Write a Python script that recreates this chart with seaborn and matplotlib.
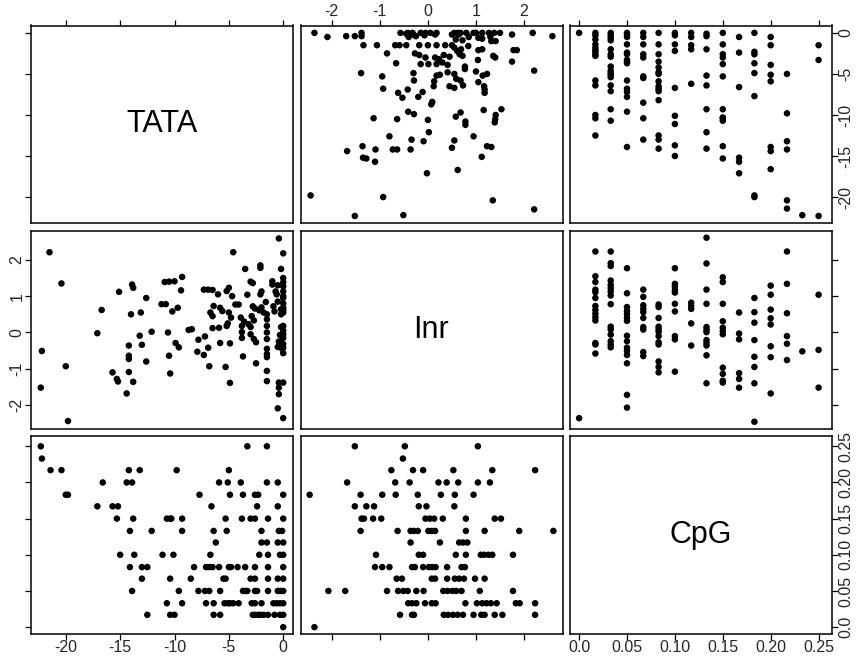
import matplotlib
matplotlib.use("Agg")
import matplotlib.pyplot as plt
import seaborn as sns
import pandas as pd

sns.set_theme(style="white")
plt.rcParams["font.family"] = ["Liberation Sans", "DejaVu Sans"]

var_names = ["TATA", "Inr", "CpG"]

# ---- TATA vs Inr (pairs) ----
tata_inr_tata = [
    -21.5, -20.4, -22.2, -22.3, -20.0, -19.8, -17.1, -16.7, -15.1, -15.7, -15.3, -15.2,
    -14.4, -14.2, -14.2, -14.2, -14.2, -14.0, -13.9, -13.8, -13.8, -13.2, -13.1, -13.0,
    -12.6, -12.6, -12.1, -11.2, -10.8, -10.9, -10.5, -10.0, -10.6, -10.5, -10.4, -10.2,
    -9.9, -9.6, -9.7, -9.4, -9.3, -8.7, -8.4, -7.9, -7.8, -7.3, -7.2, -7.3, -6.9, -6.5,
    -6.9, -6.8, -6.7, -6.5, -6.4, -6.5, -5.9, -6.0, -5.8, -5.6, -5.8, -5.3, -5.2, -5.0,
    -5.2, -5.1, -5.0, -4.8, -4.9, -4.9, -4.7, -4.6, -4.4, -4.1,
    -3.5, -2.1, -2.1, -0.4, 0.0, -0.2, -3.0, -2.8, -1.0, -1.0, 0.0, 0.0, 0.0, 0.0,
    -2.0, -2.1, -0.7, -0.6, -3.3, -1.6, 0.0, 0.0, 0.0, -2.8, -2.6, -2.0, -2.2, -1.8,
    -0.9, -0.8, -0.2, -0.2, 0.0, -3.9, -3.6, -3.2, -2.9, -2.7, -1.5, -1.5, 0.0, -3.8,
    -3.0, -3.8, -3.8, -3.0, -2.7, -2.5, -1.5, -1.5, -1.5, -1.5, -1.5, -0.2, -0.3, 0.0,
    -0.4, -0.2, 0.0, 0.0, -3.7, -2.5, -1.5, -1.5, -0.4, 0.0, -0.4, -0.4, -0.5, 0.0,
    -1.5, -0.5, -0.5, -0.5, -0.1, 0.0, 0.0, 0.0, 0.0, 0.0,
]
tata_inr_inr = [
    2.21, 1.35, -0.51, -1.52, -0.93, -2.44, -0.02, 0.62, 1.12, -1.10, -1.28, -1.35,
    -1.68, -0.36, -0.64, -0.73, -1.09, 0.50, 1.32, 1.23, -1.36, -0.09, 0.55, -0.34,
    0.95, -0.80, 0.02, 0.78, 0.78, 1.39, 1.40, 1.41, 0.00, -0.64, -1.13, 0.58,
    -0.29, -0.41, 0.68, 1.16, 1.53, 0.07, 0.09, -0.53, -0.20, -0.62, -0.11, 1.18, 1.18, 1.17,
    -0.42, -0.93, 0.55, 0.45, 0.73, 0.12, 0.13, 1.05, 0.68, 0.59, -0.29, -0.95, 1.14, 1.23,
    0.18, 0.25, 0.55, 0.41, -0.30, -1.39, 1.00, 2.21, 0.77, 0.77,
    1.75, 1.85, 1.78, 2.59, 2.18, 1.75, 1.40, 1.36, 1.41, 1.32, 1.50, 1.38, 1.27, 1.13,
    1.13, 1.05, 1.13, 1.05, 1.04, 0.84, 0.95, 0.80, 0.68, 0.72, 0.66, 0.69, 0.61, 0.55,
    0.72, 0.58, 0.64, 0.50, 0.55, 0.41, 0.30, 0.23, 0.45, 0.33, 0.36, 0.18, 0.18, 0.18,
    0.15, 0.01, -0.15, -0.05, -0.18, -0.27, 0.00, -0.18, -0.45, -0.59, -0.68, 0.15, -0.07, -0.15,
    -0.25, -0.30, -0.32, -0.57, -0.66, -0.85, -1.06, -1.34, -1.38, -1.38, -1.52, -1.70, -2.09, -2.36,
    0.50, 1.30, 0.85, -0.40, -0.45, 1.00, -0.05, -0.42, 0.62, 0.05,
]

# ---- CpG levels and the TATA / Inr values seen at each level ----
cpg_levels = [0.25, 0.233, 0.217, 0.2, 0.183, 0.167, 0.15, 0.133,
              0.117, 0.1, 0.083, 0.067, 0.05, 0.033, 0.017, 0.0]

tata_at_cpg = [
    [-22.3, -3.3, -1.5],
    [-22.2],
    [-21.4, -20.4, -14.2, -13.2, -9.8, -5.0],
    [-16.6, -14.4, -13.9, -5.9, -5.1, -3.9, -1.5, -0.5],
    [-20.0, -19.8, -7.7, -4.9, -3.7, -2.6, -2.3, 0.0],
    [-17.1, -15.7, -15.2, -6.6, -2.4, -0.5],
    [-15.3, -13.8, -10.7, -10.4, -10.3, -9.3, -5.3, -3.8, -3.0, -2.6, -1.4, 0.0],
    [-14.1, -12.1, -9.3, -6.4, -5.2, -2.0, -0.4, -0.1],
    [-6.2, -2.0, -1.5, -0.5, 0.0],
    [-15.0, -13.7, -11.1, -10.1, -6.7, -2.2, -1.4, -0.3, 0.0],
    [-14.1, -13.0, -12.5, -8.2, -7.1, -6.8, -6.5, -5.9, -5.0, -4.8, -4.2, -3.5, -2.6, -1.4, 0.0],
    [-13.0, -10.4, -8.5, -5.5, -5.3, -3.0, -2.6, -1.4, -0.5, 0.0],
    [-13.9, -9.6, -7.8, -7.2, -6.8, -5.8, -3.7, -3.5, -3.3, -2.6, -2.4, -1.4, -0.5, -0.2, 0.0],
    [-10.7, -9.3, -7.1, -6.4, -5.4, -5.1, -4.9, -4.6, -4.1, -2.9, -2.6, -2.0, -0.9, -0.6, -0.3, 0.0],
    [-12.5, -10.4, -10.0, -6.4, -5.8, -2.8, -2.6, -2.3, -2.1, -1.8, -1.4, -0.8, -0.3, 0.0],
    [0.0],
]

inr_at_cpg = [
    [-1.52, -0.48, 1.04],
    [-0.52],
    [-0.76, -0.31, -0.10, 0.53, 1.34, 2.23],
    [-1.68, -0.68, -0.38, 0.22, 0.39, 0.63, 1.04, 1.29],
    [-2.46, -1.40, -0.95, -0.67, -0.21, 0.27, 0.56, 0.95],
    [-1.52, -1.28, -1.12, -0.19, -0.03, 0.55],
    [-1.38, -1.33, -1.14, -0.97, -0.05, 0.04, 0.13, 0.31, 0.79, 1.39, 1.52],
    [-1.40, -0.63, -0.36, -0.29, -0.21, 0.01, 0.08, 0.15, 0.79, 1.18, 1.90, 2.61],
    [-0.36, 0.25, 0.65, 0.73, 0.82],
    [-1.08, -0.19, -0.10, 0.58, 0.79, 1.10, 1.17, 1.26, 1.34, 1.77],
    [-1.10, -0.95, -0.80, -0.33, -0.27, -0.10, 0.02, 0.09, 0.16, 0.40, 0.70, 0.77],
    [-0.65, -0.54, 0.08, 0.15, 0.40, 0.56, 0.65, 0.75, 0.98, 1.18],
    [-2.07, -1.72, -0.85, -0.62, -0.51, -0.42, -0.24, -0.09, 0.32, 0.41, 0.51, 0.59, 0.70, 1.08, 1.77],
    [-0.41, -0.33, -0.24, -0.06, 0.08, 0.16, 0.78, 1.02, 1.13, 1.22, 1.31, 1.43, 1.83, 1.91, 2.23],
    [-0.58, -0.33, -0.29, 0.33, 0.42, 0.52, 0.62, 0.73, 0.95, 1.11, 1.18, 1.39, 1.55, 2.23],
    [-2.36],
]

# ---- axis settings ----
tick_values = {
    "TATA": [-20, -15, -10, -5, 0],
    "Inr": [-2, -1, 0, 1, 2],
    "CpG": [0.0, 0.05, 0.10, 0.15, 0.20, 0.25],
}
tick_labels = {
    "TATA": ["-20", "-15", "-10", "-5", "0"],
    "Inr": ["-2", "-1", "0", "1", "2"],
    "CpG": ["0.0", "0.05", "0.10", "0.15", "0.20", "0.25"],
}
limits = {
    "TATA": (-23.2, 0.9),
    "Inr": (-2.65, 2.8),
    "CpG": (-0.0095, 0.264),
}

# ---- build tidy tables ----
df_ti = pd.DataFrame({"TATA": tata_inr_tata, "Inr": tata_inr_inr})
rows_tc, rows_ic = [], []
for lev, tv, iv in zip(cpg_levels, tata_at_cpg, inr_at_cpg):
    rows_tc += [(t, lev) for t in tv]
    rows_ic += [(v, lev) for v in iv]
df_tc = pd.DataFrame(rows_tc, columns=["TATA", "CpG"])
df_ic = pd.DataFrame(rows_ic, columns=["Inr", "CpG"])

pair_tables = {
    frozenset(["TATA", "Inr"]): df_ti,
    frozenset(["TATA", "CpG"]): df_tc,
    frozenset(["Inr", "CpG"]): df_ic,
}

W, H = 858.0, 659.0
fig, axes = plt.subplots(3, 3, figsize=(8.58, 6.59), dpi=100)
fig.subplots_adjust(left=31 / W, right=832 / W, bottom=1 - 634 / H, top=1 - 25.5 / H,
                    wspace=7.5 / 262, hspace=7.5 / 198)
fig.patch.set_facecolor("white")

FS = 11.5
for i, yv in enumerate(var_names):
    for j, xv in enumerate(var_names):
        ax = axes[i][j]
        ax.set_facecolor("white")
        if i == j:
            ax.text(0.5, 0.5, yv, transform=ax.transAxes, ha="center",
                    va="center", fontsize=22, color="black")
        else:
            d = pair_tables[frozenset([xv, yv])]
            sns.scatterplot(data=d, x=xv, y=yv, ax=ax, color="black", s=22,
                            edgecolor="none", linewidth=0, legend=False)
        ax.set_xlim(*limits[xv])
        ax.set_ylim(*limits[yv])
        ax.set_xticks(tick_values[xv])
        ax.set_xticklabels(tick_labels[xv])
        ax.set_yticks(tick_values[yv])
        ax.set_yticklabels(tick_labels[yv])
        ax.set_xlabel("")
        ax.set_ylabel("")
        for sp in ax.spines.values():
            sp.set_visible(True)
            sp.set_color("black")
            sp.set_linewidth(1.1)

        top = i == 0
        bottom = i == 2
        ax.tick_params(axis="x", which="both", direction="out", length=4,
                       width=0.9, color="black", labelsize=FS, pad=0.5,
                       top=top, bottom=bottom,
                       labeltop=top and (j % 2 == 1),
                       labelbottom=bottom and (j % 2 == 0))
        left = j == 0
        right = j == 2
        ax.tick_params(axis="y", which="both", direction="out", length=4,
                       width=0.9, color="black", labelsize=FS, pad=0.5,
                       left=left, right=right,
                       labelleft=left and (i % 2 == 1),
                       labelright=right and (i % 2 == 0))
        for lbl in ax.get_yticklabels():
            lbl.set_rotation(90)
            lbl.set_va("center")
        ax.grid(False)

fig.savefig("out.png", dpi=100, facecolor="white")
